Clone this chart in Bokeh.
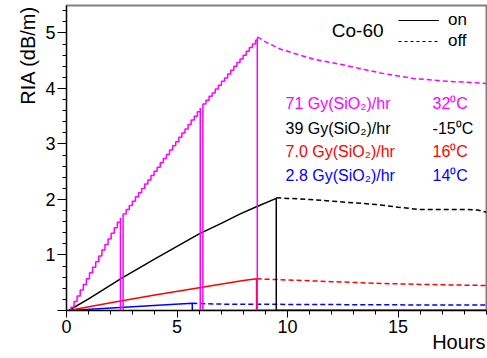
from bokeh.plotting import figure
from bokeh.models import (Label, Range1d, SingleIntervalTicker, Legend, LegendItem, Title)
from bokeh.embed import file_html
from bokeh.resources import INLINE

# ---- data (hours, RIA dB/m) ----
mag_on_t = [0.0, 0.20, 0.34, 0.48, 0.62, 0.76, 0.90, 1.04, 1.18, 1.32, 1.46, 1.60, 1.74, 1.88, 2.02, 2.16, 2.30, 2.44, 2.44,
            2.56, 2.70, 2.84, 2.98, 3.12, 3.26, 3.40, 3.54, 3.68, 3.82, 3.96, 4.10, 4.24, 4.38, 4.52, 4.66, 4.80, 4.94,
            5.08, 5.22, 5.36, 5.50, 5.64, 5.78, 5.92, 6.05, 6.05,
            6.17, 6.31, 6.45, 6.59, 6.73, 6.87, 7.01, 7.15, 7.29, 7.43, 7.57, 7.71, 7.85, 7.99, 8.13, 8.27, 8.41, 8.55,
            8.63, 8.63, 19.0]
mag_on_v = [0.0, 0.06, 0.16, 0.26, 0.37, 0.47, 0.57, 0.68, 0.78, 0.88, 0.98, 1.09, 1.19, 1.29, 1.39, 1.49, 1.59, 1.67, 0.0,
            1.74, 1.82, 1.89, 1.97, 2.05, 2.12, 2.20, 2.28, 2.35, 2.43, 2.51, 2.58, 2.66, 2.74, 2.81, 2.89, 2.97, 3.04,
            3.12, 3.20, 3.27, 3.35, 3.43, 3.50, 3.58, 3.65, 0.0,
            3.72, 3.79, 3.86, 3.92, 3.99, 4.06, 4.13, 4.19, 4.26, 4.33, 4.40, 4.47, 4.53, 4.60, 4.67, 4.74, 4.80, 4.87,
            4.91, 0.0, 0.0]
mag_off_t = [8.63, 9.0, 9.67, 10.4, 11.16, 12.7, 14.19, 15.68, 17.22, 18.71, 19.0]
mag_off_v = [4.93, 4.84, 4.71, 4.62, 4.53, 4.41, 4.28, 4.18, 4.13, 4.10, 4.09]

blk_on_t = [0.1, 1.0, 2.5, 4.0, 6.0, 7.0, 7.86, 8.54, 9.49, 9.49, 19.0]
blk_on_v = [0.0, 0.21, 0.585, 0.93, 1.38, 1.57, 1.74, 1.86, 2.02, 0.0, 0.0]
blk_off_t = [9.49, 10, 11, 12, 13, 14, 15, 16, 17, 18, 18.6, 19]
blk_off_v = [2.03, 2.02, 2.0, 1.97, 1.94, 1.91, 1.86, 1.82, 1.82, 1.82, 1.81, 1.77]

red_on_t = [0.1, 2, 4, 6, 8, 8.6, 8.6, 19]
red_on_v = [0.0, 0.14, 0.28, 0.41, 0.54, 0.57, 0.0, 0.0]
red_off_t = [8.6, 10, 12, 14, 16, 19]
red_off_v = [0.57, 0.55, 0.52, 0.49, 0.47, 0.45]

blu_on_t = [0.1, 5.69, 5.69, 19]
blu_on_v = [0.0, 0.13, 0.0, 0.0]
blu_off_t = [5.69, 7, 10, 13, 16, 19]
blu_off_v = [0.13, 0.115, 0.11, 0.105, 0.1, 0.1]

rates = ["71 Gy(SiO\u2082)/hr", "39 Gy(SiO\u2082)/hr", "7.0 Gy(SiO\u2082)/hr", "2.8 Gy(SiO\u2082)/hr"]
temps = ["32\u2070C", "-15\u2070C", "16\u2070C", "14\u2070C"]
colors = ["#ff00ff", "#000000", "#ff0000", "#0000ff"]
legend_labels = ["on", "off"]
x_title = "Hours"
y_title = "RIA (dB/m)"

FONT = "Liberation Sans"
NBSP = "\u00a0"

p = figure(width=487, height=358, output_backend="svg", toolbar_location=None,
           x_range=Range1d(0, 19), y_range=Range1d(0, 5.495),
           min_border_left=66, min_border_right=1, min_border_top=5, min_border_bottom=48)
p.background_fill_color = "white"
p.border_fill_color = "white"
p.outline_line_color = "#808080"
p.outline_line_width = 2
p.grid.visible = False

dash = "5 3"
p.line(blu_off_t, blu_off_v, color=colors[3], line_width=1.5, line_dash=dash)
p.line(red_off_t, red_off_v, color=colors[2], line_width=1.5, line_dash=dash)
p.line(blk_off_t, blk_off_v, color=colors[1], line_width=1.5, line_dash=dash)
p.line(mag_off_t, mag_off_v, color=colors[0], line_width=1.5, line_dash=dash)
p.line(blu_on_t, blu_on_v, color=colors[3], line_width=1.5)
p.line(red_on_t, red_on_v, color=colors[2], line_width=1.5)
p.line(blk_on_t, blk_on_v, color=colors[1], line_width=1.5)
p.step(mag_on_t, mag_on_v, color=colors[0], line_width=1.5, mode="after")

# legend (on/off) - sample renderers kept off-range so only their legend glyphs show
r_on = p.line([-5, -4], [-5, -5], color="black", line_width=1.2)
r_off = p.line([-5, -4], [-5, -5], color="black", line_width=1.2, line_dash="3 3")
leg = Legend(items=[LegendItem(label=legend_labels[0], renderers=[r_on]),
                    LegendItem(label=legend_labels[1], renderers=[r_off])],
             location=(332, 259), orientation="vertical", padding=0, margin=0, spacing=1,
             glyph_width=41, glyph_height=20, label_height=20, label_standoff=9,
             border_line_color=None, background_fill_alpha=0,
             label_text_font=FONT, label_text_font_size="17px", label_text_color="black")
p.add_layout(leg, "center")

# axes
for ax in (p.xaxis, p.yaxis):
    ax.axis_line_color = "black"
    ax.major_tick_line_color = "black"
    ax.minor_tick_line_color = "black"
    ax.major_label_text_font = FONT
    ax.major_label_text_font_size = "18px"
    ax.major_label_text_color = "black"
    ax.major_tick_in = 0
    ax.minor_tick_in = 0
    ax.axis_label_text_font = FONT
    ax.axis_label_text_font_size = "20px"
    ax.axis_label_text_font_style = "normal"
    ax.axis_label_text_color = "black"
p.xaxis.ticker = SingleIntervalTicker(interval=5, num_minor_ticks=5)
p.yaxis.ticker = SingleIntervalTicker(interval=1, num_minor_ticks=5)
p.yaxis.major_label_overrides = {0: ""}
p.xaxis.major_tick_out = 7
p.xaxis.minor_tick_out = 4
p.yaxis.major_tick_out = 9
p.yaxis.minor_tick_out = 4
p.xaxis.major_label_standoff = 2
p.yaxis.major_label_standoff = 2

# y title: centred axis label, padded at its start so the visible words end at the top of the axis
ya = p.yaxis[0]
ya.axis_label = NBSP * 37 + y_title
ya.axis_label_standoff = 3

# x title: right-aligned under the end of the x axis
p.add_layout(Title(text=x_title, align="right", vertical_align="top", standoff=-10, offset=1,
                   text_font=FONT, text_font_size="20px", text_font_style="normal",
                   text_color="black"), "below")

# text labels inside the frame
p.add_layout(Label(x=12.0, y=5.036, text="Co-60", text_font=FONT, text_font_size="19px",
                   text_baseline="middle", text_color="black"))
row_y = [3.721, 3.283, 2.861, 2.429]
for txt, tmp, c, yy in zip(rates, temps, colors, row_y):
    p.add_layout(Label(x=9.91, y=yy, text=txt, text_font=FONT, text_font_size="16px",
                       text_baseline="middle", text_color=c))
    p.add_layout(Label(x=16.56, y=yy, text=tmp, text_font=FONT, text_font_size="16px",
                       text_baseline="middle", text_color=c))

open("out.html", "w").write(file_html(p, INLINE))
